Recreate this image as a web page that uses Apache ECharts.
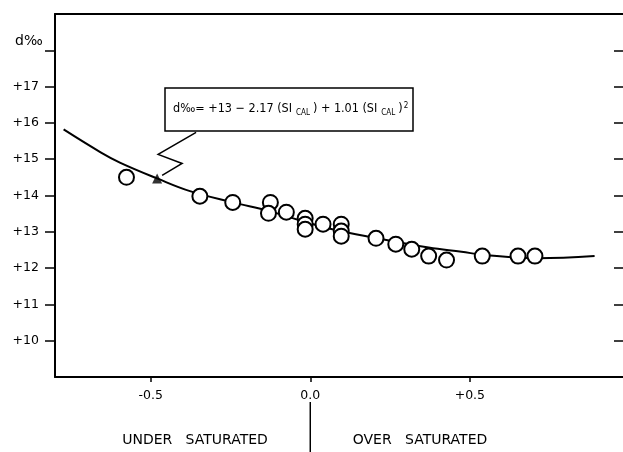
<!DOCTYPE html>
<html>
<head>
<meta charset="utf-8">
<script src="https://cdn.jsdelivr.net/npm/echarts@6/dist/echarts.min.js"></script>
<style>
  html, body { margin: 0; padding: 0; background: #fff; }
  #chart { width: 623px; height: 452px; }
</style>
</head>
<body>
<div id="chart"></div>
<script>
// Measured samples: calcite saturation index vs d‰
const siCal = [-0.576, -0.346, -0.243, -0.125, -0.131, -0.075, -0.016, -0.016, -0.016, 0.040, 0.097, 0.097, 0.097, 0.206, 0.268, 0.318, 0.371, 0.427, 0.539, 0.651, 0.704];
const dPermil = [14.50, 13.98, 13.81, 13.81, 13.51, 13.54, 13.37, 13.21, 13.07, 13.21, 13.21, 13.02, 12.88, 12.82, 12.66, 12.52, 12.33, 12.22, 12.33, 12.33, 12.33];

// Fitted regression curve
const curveSi = [-0.773, -0.657, -0.595, -0.480, -0.377, -0.243, -0.128, -0.034, 0.069, 0.206, 0.371, 0.474, 0.548, 0.713, 0.891];
const curveD = [15.82, 15.19, 14.90, 14.47, 14.12, 13.81, 13.57, 13.32, 13.07, 12.83, 12.57, 12.45, 12.36, 12.27, 12.33];

// Point on the curve the equation callout refers to
const calloutPoint = [-0.48, 14.47];

// Axis ticks and labels
const xTickValues = [-0.5, 0, 0.5];
const xTickLabels = ['-0.5', '0.0', '+0.5'];
const yTickValues = [10, 11, 12, 13, 14, 15, 16, 17, 18];
const yLabelValues = [10, 11, 12, 13, 14, 15, 16, 17];

const FONT = '"DejaVu Sans", sans-serif';
const FONT_NARROW = '"DejaVu Sans Condensed", "Liberation Sans Narrow", "DejaVu Sans", sans-serif';
const chart = echarts.init(document.getElementById('chart'), null, { renderer: 'canvas' });

const axisLine = { show: true, onZero: false, lineStyle: { color: '#000', width: 2 } };
const X_MIN = -0.8, X_MAX = 0.98;

chart.setOption({
  animation: false,
  backgroundColor: '#fff',
  grid: { left: 55, top: 14, width: 571, bottom: 75 },
  xAxis: [{
    type: 'value', min: X_MIN, max: X_MAX, position: 'bottom',
    axisLine: axisLine,
    axisTick: { customValues: xTickValues, length: 5, lineStyle: { color: '#000', width: 1.5 } },
    axisLabel: {
      customValues: xTickValues, margin: 12, color: '#000', fontSize: 12.5, fontFamily: FONT,
      formatter: v => {
        const i = xTickValues.findIndex(t => Math.abs(t - v) < 1e-9);
        return i >= 0 ? xTickLabels[i] : '';
      }
    },
    splitLine: { show: false }
  }, {
    type: 'value', min: X_MIN, max: X_MAX, position: 'top',
    axisLine: axisLine, axisTick: { show: false }, axisLabel: { show: false }, splitLine: { show: false }
  }],
  yAxis: [{
    type: 'value', min: 9, max: 19, interval: 1, position: 'left',
    axisLine: axisLine,
    axisTick: { customValues: yTickValues, length: 10, lineStyle: { color: '#000', width: 1.5 } },
    axisLabel: {
      customValues: yLabelValues, margin: 16, color: '#000', fontSize: 12.5, fontFamily: FONT,
      formatter: v => '+' + v
    },
    splitLine: { show: false }
  }, {
    type: 'value', min: 9, max: 19, interval: 1, position: 'right',
    axisLine: { show: false, onZero: false },
    axisTick: { show: true, customValues: yTickValues, inside: true, length: 9, lineStyle: { color: '#000', width: 1.5 } },
    axisLabel: { show: false },
    splitLine: { show: false }
  }],
  series: [{
    type: 'line',
    data: curveSi.map((x, i) => [x, curveD[i]]),
    smooth: 0.4,
    showSymbol: false,
    lineStyle: { color: '#000', width: 2 },
    z: 2
  }, {
    type: 'scatter',
    data: siCal.map((x, i) => [x, dPermil[i]]),
    symbol: 'circle',
    symbolSize: 15,
    itemStyle: { color: '#fff', borderColor: '#000', borderWidth: 2, opacity: 1 },
    z: 3
  }, {
    type: 'scatter',
    data: [calloutPoint],
    symbol: 'triangle',
    symbolSize: [10, 10],
    itemStyle: { color: '#000' },
    z: 4
  }]
});

// Callout, axis title and saturation captions
const tip = chart.convertToPixel({ xAxisIndex: 0, yAxisIndex: 0 }, calloutPoint);
const zeroX = chart.convertToPixel({ xAxisIndex: 0 }, 0);
const tx = tip[0], ty = tip[1];

chart.setOption({
  graphic: [
    {
      type: 'text', left: 15, top: 34,
      style: { text: 'd‰', fontSize: 14, fontFamily: FONT, fill: '#000' }
    },
    {
      type: 'rect', shape: { x: 165, y: 88, width: 248, height: 43 },
      style: { fill: '#fff', stroke: '#000', lineWidth: 1.5 }, z: 10
    },
    {
      type: 'text', x: 173, y: 109, z: 11,
      style: {
        text: '{t|d‰= +13 − 2.17 (SI}{s|CAL}{t|) + 1.01 (SI}{s|CAL}{t|)}{p|2}',
        verticalAlign: 'middle',
        rich: {
          t: { fontSize: 12.5, fontFamily: FONT_NARROW, fill: '#000', lineHeight: 16 },
          s: { fontSize: 8, fontFamily: FONT_NARROW, fill: '#000', padding: [8, 3, 0, 4] },
          p: { fontSize: 8, fontFamily: FONT_NARROW, fill: '#000', padding: [0, 0, 7, 1] }
        }
      }
    },
    {
      type: 'polyline', z: 10,
      shape: { points: [[tx + 39, ty - 46], [tx + 1, ty - 24], [tx + 25, ty - 15], [tx + 5, ty - 3]] },
      style: { stroke: '#000', lineWidth: 1.5, fill: null }
    },
    {
      type: 'line', shape: { x1: zeroX, y1: 402, x2: zeroX, y2: 452 },
      style: { stroke: '#000', lineWidth: 1.5 }
    },
    {
      type: 'text', x: 195, y: 440,
      style: { text: 'UNDER   SATURATED', fontSize: 14, fontFamily: FONT, fill: '#000', align: 'center', verticalAlign: 'middle' }
    },
    {
      type: 'text', x: 420, y: 440,
      style: { text: 'OVER   SATURATED', fontSize: 14, fontFamily: FONT, fill: '#000', align: 'center', verticalAlign: 'middle' }
    }
  ]
});
</script>
</body>
</html>
